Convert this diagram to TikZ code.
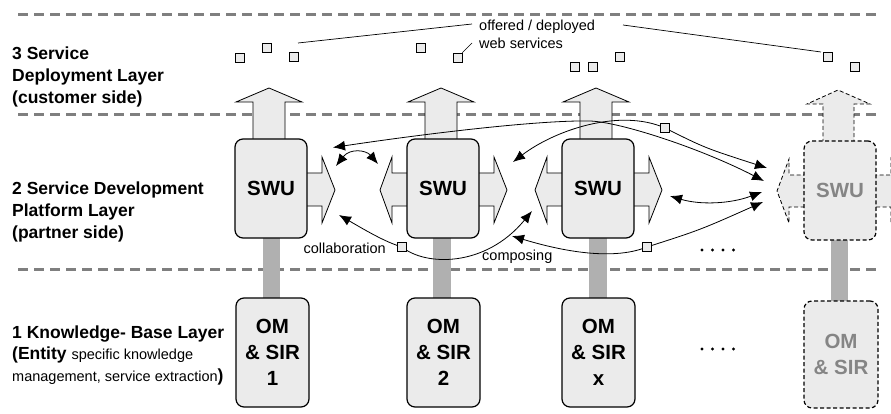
\documentclass[tikz,border=0pt]{standalone}
\usepackage{fontspec}
\setmainfont{Liberation Sans}
\usetikzlibrary{arrows.meta,calc}
\definecolor{boxfill}{HTML}{EBEBEB}
\definecolor{layerline}{HTML}{7F7F7F}
\definecolor{barfill}{HTML}{B0B0B0}
\definecolor{ghost}{HTML}{858585}
\begin{document}
\begin{tikzpicture}[x=1pt,y=-1pt,
  layer/.style={draw=layerline, line width=3pt, dash pattern=on 10pt off 6pt},
  unit/.style={draw, line width=1.2pt, fill=boxfill, rounded corners=8pt, inner sep=0pt,
    font=\bfseries\fontsize{20.5}{26}\selectfont, align=center},
  ghostunit/.style={unit, dash pattern=on 4pt off 2.5pt, text=ghost},
  arrowshape/.style={draw, line width=0.8pt, fill=boxfill, line join=miter},
  ghostarrow/.style={arrowshape, dash pattern=on 4pt off 2.5pt},
  bar/.style={fill=barfill},
  ws/.style={draw, line width=0.7pt, fill=boxfill, minimum size=9pt, inner sep=0pt},
  conn/.style={line width=0.8pt, {Latex[length=12pt,width=10pt]}-{Latex[length=12pt,width=10pt]}},
  leader/.style={line width=0.7pt},
  layertext/.style={anchor=base west, inner sep=0pt, font=\bfseries\fontsize{17.5}{22}\selectfont},
  smalltext/.style={inner sep=0pt, font=\fontsize{14.5}{17}\selectfont}
]
\useasboundingbox (0,0) rectangle (891,414);

% layer separators
\draw[layer] (18,15) -- (878,15);
\draw[layer] (18,115) -- (878,115);
\draw[layer] (18,269) -- (878,269);

% grey connecting bars
\fill[bar] (263,236) rectangle (280,299);
\fill[bar] (433,236) rectangle (451,299);
\fill[bar] (589,236) rectangle (607,299);
\fill[bar] (831,238) rectangle (848,302);

% up arrows
\foreach \x in {269,441,596} {
  \draw[arrowshape] ({\x-16},141) -- ({\x-16},102) -- ({\x-33},102) -- (\x,88)
     -- ({\x+33},102) -- ({\x+16},102) -- ({\x+16},141);
}
\draw[ghostarrow] (823,143) -- (823,104) -- (807,104) -- (838,90)
     -- (870,104) -- (854,104) -- (854,143);

% right arrows
\foreach \r in {307,479,634} {
  \draw[arrowshape] ({\r-3},173) -- ({\r+15},173) -- ({\r+15},157) -- ({\r+28},190)
     -- ({\r+15},223) -- ({\r+15},206) -- ({\r-3},206);
}
% left arrows
\foreach \l in {407,562} {
  \draw[arrowshape] ({\l+3},173) -- ({\l-15},173) -- ({\l-15},157) -- ({\l-27},190)
     -- ({\l-15},223) -- ({\l-15},206) -- ({\l+3},206);
}
\draw[ghostarrow] (807,175) -- (789,175) -- (789,159) -- (777,191)
     -- (789,223) -- (789,207) -- (807,207);
\draw[ghostarrow] (873,175) -- (891,175) -- (891,159) -- (904,191)
     -- (891,223) -- (891,207) -- (873,207);

% service units
\node[unit, minimum width=72pt, minimum height=99pt] (swu1) at (271,188.5) {SWU};
\node[unit, minimum width=72pt, minimum height=99pt] (swu2) at (443,188.5) {SWU};
\node[unit, minimum width=72pt, minimum height=99pt] (swu3) at (598,188.5) {SWU};
\node[ghostunit, minimum width=72pt, minimum height=99pt] (swu4) at (840,190.5) {SWU};

% knowledge bases
\node[unit, minimum width=73pt, minimum height=109pt] (om1) at (272.5,352.5) {OM\\\& SIR\\1};
\node[unit, minimum width=73pt, minimum height=109pt] (om2) at (443.5,352.5) {OM\\\& SIR\\2};
\node[unit, minimum width=73pt, minimum height=109pt] (om3) at (598.5,352.5) {OM\\\& SIR\\x};
\node[ghostunit, minimum width=74pt, minimum height=107pt] (om4) at (841,354.5) {OM\\\& SIR};

% connector end points
\coordinate (a1) at (333,147.5); \coordinate (a2) at (764,181);
\coordinate (b1) at (513,162);   \coordinate (b2) at (767,168);
\coordinate (c1) at (670,196);   \coordinate (c2) at (762,192);
\coordinate (d1) at (512,236);   \coordinate (d2) at (763,202);
\coordinate (e1) at (339,215);   \coordinate (e2) at (532,211);
\coordinate (f1) at (336,166);   \coordinate (f2) at (378,164);
\coordinate (apex) at (590,121);

% markers on connectors (placed first for names)
\path (665,128) node[ws] (sqB) {};
\path (647,247) node[ws] (sqD) {};
\path (402,247) node[ws] (sqE) {};

% connectors
\draw[conn] (a1) .. controls (430,133) and (540,120) .. (apex)
   .. controls (620,122) and (700,148) .. (a2);
\draw[conn] (b1) .. controls (555,130) and (620,108) .. (sqB.center)
   .. controls (705,148) .. (b2);
\draw[conn] (c1) .. controls (700,205) and (730,204) .. (c2);
\draw[conn] (d1) .. controls (555,249) and (610,262) .. (sqD.center)
   .. controls (700,230) .. (d2);
\draw[conn] (e1) .. controls (365,230) and (385,242) .. (sqE.center)
   .. controls (425,266) and (485,268) .. (e2);
\draw[conn] (f1) .. controls (350,148) and (366,150) .. (f2);

% redraw markers on top
\node[ws] at (sqB) {};
\node[ws] at (sqD) {};
\node[ws] at (sqE) {};

\node[smalltext, anchor=east] (collab) at (386,248) {collaboration};
\node[smalltext, anchor=west] (compo) at (482,257) {composing};

% web services
\node[ws] (s1) at (240,57.5) {};
\node[ws] (s2) at (267,47.5) {};
\node[ws] (s3) at (293.5,57) {};
\node[ws] (s4) at (421,47.5) {};
\node[ws] (s5) at (457.5,57.5) {};
\node[ws] (s6) at (574.5,66.5) {};
\node[ws] (s7) at (592.5,66.5) {};
\node[ws] (s8) at (619.5,57) {};
\node[ws] (s9) at (827.5,57) {};
\node[ws] (s10) at (854.5,66.5) {};

\node[smalltext, anchor=base west] (lab1) at (479,30.5) {offered / deployed};
\node[smalltext, anchor=base west] (lab2) at (479,48.5) {web services};
\coordinate (l1a) at (298,43);
\coordinate (l1b) at (472,24);
\coordinate (l2a) at (623,25);
\coordinate (l2b) at (821,52);
\coordinate (l3b) at (472,43);
\draw[leader] (l1a) -- (l1b);
\draw[leader] (l2a) -- (l2b);
\draw[leader] (s5.north east) -- (l3b);

% dots
\foreach \x in {702,712.5,723,733.5} {
  \fill (\x,250) circle (1.7);
  \fill (\x,349) circle (1.7);
}

% layer labels
\node[layertext] (t3a) at (12,59.3) {3 Service};
\node[layertext] (t3b) at (12,81.7) {Deployment Layer};
\node[layertext] (t3c) at (12,104) {(customer side)};
\node[layertext] (t2a) at (12,195) {2 Service Development};
\node[layertext] (t2b) at (12,216.7) {Platform Layer};
\node[layertext] (t2c) at (12,238.5) {(partner side)};
\node[layertext] (t1a) at (12,338.3) {1 Knowledge- Base Layer};
\node[layertext] (t1b) at (12,359.5) {(Entity {\mdseries\fontsize{14.5}{17}\selectfont specific knowledge}};
\node[layertext] (t1c) at (12,381) {{\mdseries\fontsize{14.5}{17}\selectfont management, service extraction})};
\end{tikzpicture}
\end{document}
